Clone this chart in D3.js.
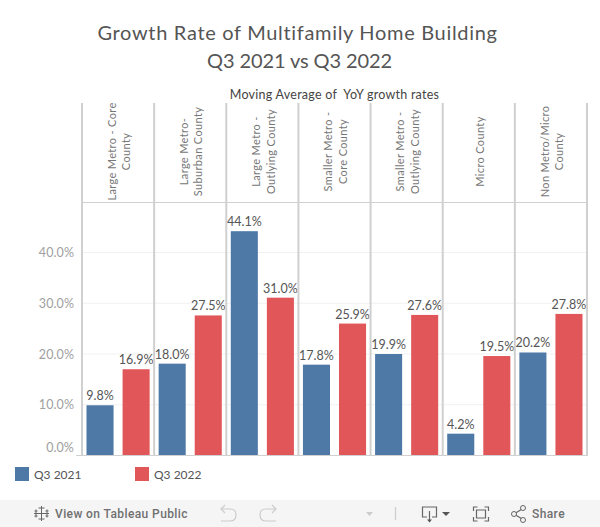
<!DOCTYPE html>
<html>
<head>
<meta charset="utf-8">
<script src="https://cdn.jsdelivr.net/npm/d3@7"></script>
<style>
  html, body { margin: 0; padding: 0; background: #fff; }
  svg { display: block; }
  text { font-family: Lato, sans-serif; white-space: pre; }
</style>
</head>
<body>
<div id="chart"></div>
<script>
const categories = [
  ["Large Metro - Core", "County"],
  ["Large Metro-", "Suburban County"],
  ["Large Metro -", "Outlying County"],
  ["Smaller Metro -", "Core County"],
  ["Smaller Metro -", "Outlying County"],
  ["Micro County"],
  ["Non Metro/Micro", "County"]
];
const seriesNames = ["Q3 2021", "Q3 2022"];
const q32021 = [9.8, 18.0, 44.1, 17.8, 19.9, 4.2, 20.2];
const q32022 = [16.9, 27.5, 31.0, 25.9, 27.6, 19.5, 27.8];
const yTicks = [0, 10, 20, 30, 40];
const titleLines = ["Growth Rate of Multifamily Home Building", "Q3 2021 vs Q3 2022"];
const axisTitle = "Moving Average of  YoY growth rates";

const width = 600,
  height = 527;
const colors = ["#4e79a7", "#e15759"];
const fmt = (v) => v.toFixed(1) + "%";

const svg = d3
  .select("#chart")
  .append("svg")
  .attr("width", width)
  .attr("height", height);

// title, digits run wide in Lato so line 2 gets tighter spacing
svg
  .selectAll(".title")
  .data(titleLines)
  .enter()
  .append("text")
  .attr("class", "title")
  .attr("x", (d, i) => (i ? 299.5 : 297.5))
  .attr("y", (d, i) => 40 + i * 28)
  .attr("text-anchor", "middle")
  .attr("font-size", 20)
  .attr("letter-spacing", (d, i) => (i ? -0.1 : 0.68))
  .attr("fill", "#555")
  .text((d) => d);

svg
  .append("text")
  .attr("x", 334.5)
  .attr("y", 99)
  .attr("text-anchor", "middle")
  .attr("font-size", 12.5)
  .attr("letter-spacing", 0.25)
  .attr("fill", "#444")
  .text(axisTitle);

// scales
const xScale = d3
  .scaleBand()
  .domain(d3.range(categories.length))
  .range([82, 587]);
const xInner = d3
  .scaleBand()
  .domain([0, 1])
  .range([0, xScale.bandwidth()])
  .paddingInner(0.25)
  .paddingOuter(0.125)
  .align(0.5);
const yScale = d3.scaleLinear().domain([0, 40]).range([455, 252]);

// gridlines
svg
  .selectAll(".grid")
  .data(yTicks.filter((d) => d > 0))
  .enter()
  .append("line")
  .attr("class", "grid")
  .attr("x1", 82)
  .attr("x2", 587)
  .attr("y1", (d) => yScale(d) + 0.5)
  .attr("y2", (d) => yScale(d) + 0.5)
  .attr("stroke", "#f1f1f1");

// y tick labels, Tableau pushes the 0 label up a bit
svg
  .selectAll(".ytick")
  .data(yTicks)
  .enter()
  .append("text")
  .attr("class", "ytick")
  .attr("x", 74)
  .attr("y", (d) => yScale(d) + (d === 0 ? -3.5 : 5))
  .attr("text-anchor", "end")
  .attr("font-size", 12.5)
  .attr("letter-spacing", 0.1)
  .attr("fill", "#a0a0a0")
  .text((d) => d.toFixed(1) + "%");

// bars
const panels = svg
  .selectAll(".panel")
  .data(categories)
  .enter()
  .append("g")
  .attr("class", "panel")
  .attr("transform", (d, i) => `translate(${xScale(i)},0)`);

[q32021, q32022].forEach((values, s) => {
  panels
    .append("rect")
    .attr("x", xInner(s))
    .attr("width", xInner.bandwidth())
    .attr("y", (d, i) => yScale(values[i]))
    .attr("height", (d, i) => yScale(0) - yScale(values[i]))
    .attr("fill", colors[s]);
  panels
    .append("text")
    .attr("x", xInner(s) + xInner.bandwidth() / 2)
    .attr("y", (d, i) => yScale(values[i]) - 5)
    .attr("text-anchor", "middle")
    .attr("font-size", 12.5)
    .attr("fill", "#555")
    .text((d, i) => fmt(values[i]));
});

// panel dividers and header
svg
  .selectAll(".divider")
  .data(d3.range(categories.length + 1))
  .enter()
  .append("line")
  .attr("class", "divider")
  .attr("x1", (d) => 82 + d * xScale.step())
  .attr("x2", (d) => 82 + d * xScale.step())
  .attr("y1", 103)
  .attr("y2", 456)
  .attr("stroke", "#d0d0d0")
  .attr("stroke-width", 2);
svg
  .append("line")
  .attr("x1", 82)
  .attr("x2", 587)
  .attr("y1", 202.5)
  .attr("y2", 202.5)
  .attr("stroke", "#d0d0d0");
svg
  .append("line")
  .attr("x1", 76)
  .attr("x2", 587)
  .attr("y1", 455.5)
  .attr("y2", 455.5)
  .attr("stroke", "#d0d0d0");

// rotated category headers
panels.each(function (lines) {
  const g = d3
    .select(this)
    .append("text")
    .attr(
      "transform",
      `translate(${xScale.bandwidth() / 2 + 1},151.5) rotate(-90)`
    )
    .attr("text-anchor", "middle")
    .attr("font-size", 11)
    .attr("letter-spacing", 0.35)
    .attr("fill", "#777");
  lines.forEach((line, i) => {
    g.append("tspan")
      .attr("x", 0)
      .attr("y", (i - (lines.length - 1) / 2) * 14.5 + 4)
      .text(line);
  });
});

// legend
const legend = svg
  .selectAll(".legend")
  .data(seriesNames)
  .enter()
  .append("g")
  .attr("class", "legend")
  .attr("transform", (d, i) => `translate(${15 + i * 120},467)`);
legend
  .append("rect")
  .attr("width", 14)
  .attr("height", 14)
  .attr("fill", (d, i) => colors[i]);
legend
  .append("text")
  .attr("x", 19)
  .attr("y", 12)
  .attr("font-size", 12)
  .attr("fill", "#555")
  .text((d) => d);

// tableau footer
svg
  .append("rect")
  .attr("y", 500)
  .attr("width", width)
  .attr("height", 27)
  .attr("fill", "#f5f5f5");
const footerText = (x, txt) =>
  svg
    .append("text")
    .attr("x", x)
    .attr("y", 518)
    .attr("font-size", 12)
    .attr("font-weight", 500)
    .attr("letter-spacing", 0.4)
    .attr("fill", "#707070")
    .style("font-family", "Roboto, sans-serif")
    .text(txt);
footerText(55, "View on Tableau Public");
footerText(532, "Share");

const icon = (d, stroke, sw) =>
  svg
    .append("path")
    .attr("d", d)
    .attr("fill", "none")
    .attr("stroke", stroke)
    .attr("stroke-width", sw || 1.2);
// logo
icon("M41.5 506V521M34 513.5H49M41.5 510V517M38 513.5H45M36 509.5V513M34.5 511H37.5M47 509.5V513M45.5 511H48.5M36 514V517.5M34.5 516H37.5M47 514V517.5M45.5 516H48.5M38.5 508H44.5M38.5 519H44.5", "#666", 1);
// undo, redo
icon("M221 509H230Q236 509 236 514.5Q236 521 230 521H221M225 505L221 509L225 513", "#ccc");
icon("M276 509H266Q260 509 260 514.5Q260 521 266 521H276M272 505L276 509L272 513", "#ccc");
svg.append("path").attr("d", "M366 512H373L369.5 516Z").attr("fill", "#ccc");
icon("M395.5 507V520", "#ccc");
// download
icon("M427 517H422.5V507H436.5V517H432M429.5 511V521", "#666");
svg.append("path").attr("d", "M427 519.5H432L429.5 522.5Z").attr("fill", "#555");
svg.append("path").attr("d", "M442 512H450L446 516Z").attr("fill", "#555");
// fullscreen
icon("M473.5 511V507H477.5M484.5 507H488.5V511M488.5 517V521H484.5M477.5 521H473.5V517", "#666");
icon("M476.5 510H485.5V518H476.5Z", "#666");
// share
icon("M514 514L523 508.5M514 514L523 519.5", "#666");
svg
  .selectAll(".shareDot")
  .data([[514, 514], [523, 508], [523, 520]])
  .enter()
  .append("circle")
  .attr("cx", (d) => d[0])
  .attr("cy", (d) => d[1])
  .attr("r", 2.5)
  .attr("fill", "#f5f5f5")
  .attr("stroke", "#666");
</script>
</body>
</html>
